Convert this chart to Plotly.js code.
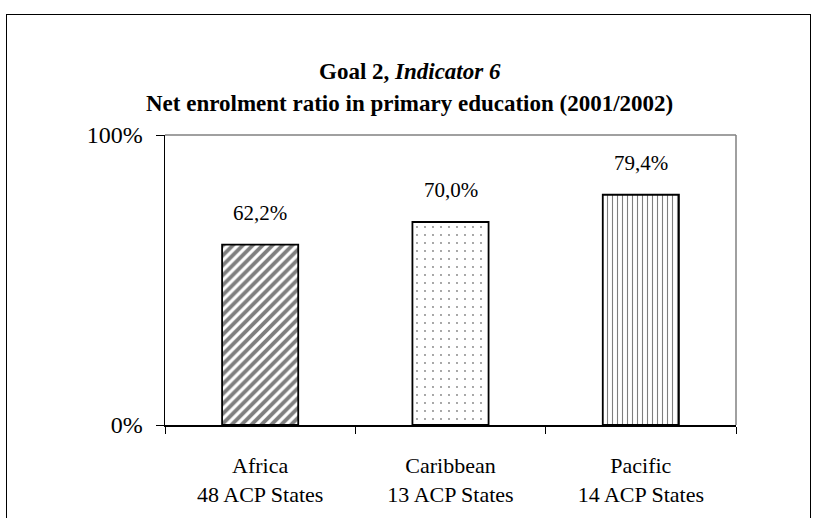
<!DOCTYPE html>
<html>
<head>
<meta charset="utf-8">
<script src="https://cdn.plot.ly/plotly-3.0.1.min.js"></script>
<style>
html,body{margin:0;padding:0;background:#fff;}
#wrap{position:relative;width:819px;height:518px;overflow:hidden;}
#chart{width:819px;height:518px;}
#frame{position:absolute;left:6px;top:14px;width:805px;height:540px;border:1.5px solid #000;pointer-events:none;box-sizing:border-box;}
</style>
</head>
<body>
<div id="wrap">
<div id="chart"></div>
<div id="frame"></div>
</div>
<script>
const categories = ["Africa<br>48 ACP States", "Caribbean<br>13 ACP States", "Pacific<br>14 ACP States"];
const values = [0.622, 0.700, 0.794];
const labels = ["62,2%", "70,0%", "79,4%"];
const patterns = ["/", ".", "|"];
const patternSizes = [7, 8, 5];
const patternSolidity = [0.55, 0.04, 0.22];

const FONT = "'Liberation Serif', 'Times New Roman', serif";

const trace = {
  type: "bar",
  x: categories,
  y: values,
  width: 0.4,
  marker: {
    color: "#ffffff",
    line: {color: "#000000", width: 1.8},
    pattern: {
      shape: patterns,
      fgcolor: "#000000",
      bgcolor: "#ffffff",
      size: patternSizes,
      solidity: patternSolidity,
      fillmode: "overlay"
    }
  },
  hoverinfo: "skip"
};

const annotations = categories.map((c, i) => ({
  x: c, y: values[i], xref: "x", yref: "y",
  text: labels[i], showarrow: false, yanchor: "bottom", yshift: 18,
  font: {family: FONT, size: 21, color: "#000"}
}));
annotations.push({
  xref: "paper", yref: "paper", x: 0.5, y: 1, yanchor: "middle", xanchor: "center",
  yshift: 135 - 71, xshift: -((165 - 83) / 2),
  text: "<b>Goal 2, <i>Indicator 6</i></b>", showarrow: false,
  font: {family: FONT, size: 23, color: "#000"}
});
annotations.push({
  xref: "paper", yref: "paper", x: 0.5, y: 1, yanchor: "middle", xanchor: "center",
  yshift: 135 - 103, xshift: -((165 - 83) / 2),
  text: "<b>Net enrolment ratio in primary education (2001/2002)</b>", showarrow: false,
  font: {family: FONT, size: 23, color: "#000"}
});

const layout = {
  width: 819, height: 518,
  margin: {l: 165, r: 83, t: 135, b: 93, pad: 0},
  paper_bgcolor: "#ffffff",
  plot_bgcolor: "#ffffff",
  showlegend: false,
  font: {family: FONT, color: "#000"},
  xaxis: {
    type: "category",
    showline: true, linecolor: "#000", linewidth: 1.5,
    ticks: "outside", tickson: "boundaries", ticklen: 7, tickcolor: "#000", tickwidth: 1,
    tickfont: {family: FONT, size: 22, color: "#000"},
    ticklabelstandoff: 20,
    showgrid: false, zeroline: false, fixedrange: true
  },
  yaxis: {
    range: [0, 1],
    tickvals: [0, 1],
    ticktext: ["0%", "100%"],
    showline: true, linecolor: "#000", linewidth: 1.5,
    ticks: "outside", ticklen: 8, tickcolor: "#000", tickwidth: 1,
    tickfont: {family: FONT, size: 24, color: "#000"},
    ticklabelstandoff: 8,
    showgrid: false, zeroline: false, fixedrange: true
  },
  shapes: [
    {type: "line", xref: "paper", yref: "paper", x0: 0, x1: 1, y0: 1, y1: 1, line: {color: "#808080", width: 1.5}},
    {type: "line", xref: "paper", yref: "paper", x0: 1, x1: 1, y0: 0, y1: 1, line: {color: "#808080", width: 1.5}}
  ],
  annotations: annotations
};

Plotly.newPlot("chart", [trace], layout, {staticPlot: true, displayModeBar: false});
</script>
</body>
</html>
